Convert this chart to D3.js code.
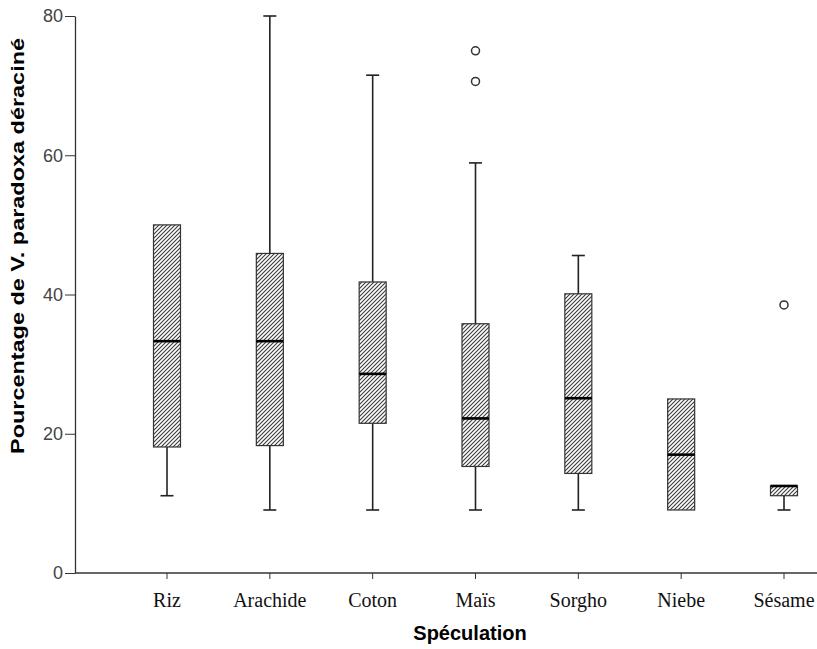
<!DOCTYPE html>
<html>
<head>
<meta charset="utf-8">
<script src="https://cdn.jsdelivr.net/npm/d3@7/dist/d3.min.js"></script>
<style>
    body { margin: 0; background: #fff; }
    svg { display: block; }
</style>
</head>
<body>
<svg id="chart" width="817" height="649"></svg>
<script>
// Values.
var categories = ['Riz', 'Arachide', 'Coton', 'Maïs', 'Sorgho', 'Niebe', 'Sésame'];
var whiskerLow = [11.1, 9.05, 9.05, 9.05, 9.05, 9.05, 9.05];
var quartile1 = [18.1, 18.3, 21.5, 15.3, 14.3, 9.05, 11.1];
var medians = [33.3, 33.3, 28.6, 22.2, 25.1, 17.0, 12.5];
var quartile3 = [50.0, 45.9, 41.8, 35.8, 40.1, 25.0, 12.5];
var whiskerHigh = [50.0, 80.0, 71.5, 58.9, 45.6, 25.0, 12.5];
var outliers = [[], [], [], [75.0, 70.6], [], [], [38.5]];
var yTicks = [0, 20, 40, 60, 80];

var boxes = categories.map(function (name, i) {
    return {
        name: name,
        low: whiskerLow[i],
        q1: quartile1[i],
        median: medians[i],
        q3: quartile3[i],
        high: whiskerHigh[i],
        outliers: outliers[i]
    };
});

var svg = d3.select('#chart');

var plotLeft = 75,
    plotTop = 16,
    plotBottom = 573,
    plotRight = 817;

// Categorical positions: first tick at ~167, spacing ~103.
var x = d3.scalePoint()
    .domain(categories)
    .range([167, 784]);

var y = d3.scaleLinear()
    .domain([0, 80])
    .range([plotBottom, plotTop]);

var boxWidth = 27,
    capWidth = 13;

// Hatch pattern for the box fill.
var defs = svg.append('defs');
defs.append('pattern')
    .attr('id', 'hatch')
    .attr('patternUnits', 'userSpaceOnUse')
    .attr('width', 4)
    .attr('height', 4)
    .append('path')
    .attr('d', 'M-1,1 l2,-2 M0,4 l4,-4 M3,5 l2,-2')
    .attr('stroke', '#3a3a3a')
    .attr('stroke-width', 1.1);

// Y axis.
var yAxis = svg.append('g')
    .attr('transform', 'translate(' + plotLeft + ',0)')
    .call(d3.axisLeft(y).tickValues(yTicks).tickSize(10).tickPadding(2).tickSizeOuter(0));

yAxis.select('.domain').attr('stroke', '#333').attr('stroke-width', 1.3);
yAxis.selectAll('.tick line').attr('stroke', '#333');
yAxis.selectAll('.tick text')
    .attr('fill', '#444')
    .style('font-family', 'Arial, "Liberation Sans", sans-serif')
    .style('font-size', '18px');

// X axis.
var xAxis = svg.append('g')
    .attr('transform', 'translate(0,' + plotBottom + ')');

xAxis.append('line')
    .attr('x1', plotLeft)
    .attr('x2', plotRight)
    .attr('stroke', '#333')
    .attr('stroke-width', 1.3);

xAxis.selectAll('line.tick')
    .data(categories)
    .enter()
    .append('line')
    .attr('class', 'tick')
    .attr('x1', function (d) { return x(d); })
    .attr('x2', function (d) { return x(d); })
    .attr('y1', 0)
    .attr('y2', 6)
    .attr('stroke', '#333');

xAxis.selectAll('text.label')
    .data(categories)
    .enter()
    .append('text')
    .attr('class', 'label')
    .attr('x', function (d) { return x(d); })
    .attr('y', 34)
    .attr('text-anchor', 'middle')
    .style('font-family', '"Liberation Serif", "Times New Roman", serif')
    .style('font-size', '20px')
    .attr('fill', '#111')
    .text(function (d) { return d; });

// Axis titles.
svg.append('text')
    .attr('x', 470)
    .attr('y', 640)
    .attr('text-anchor', 'middle')
    .style('font-family', 'Arial, "Liberation Sans", sans-serif')
    .style('font-weight', 'bold')
    .style('font-size', '20px')
    .text('Spéculation');

// The reference title is drawn long and narrow, so stretch it.
svg.append('text')
    .attr('transform', 'translate(24,246) rotate(-90)')
    .attr('text-anchor', 'middle')
    .attr('textLength', 416)
    .attr('lengthAdjust', 'spacingAndGlyphs')
    .style('font-family', 'Arial, "Liberation Sans", sans-serif')
    .style('font-weight', 'bold')
    .style('font-size', '19px')
    .text('Pourcentage de V. paradoxa déraciné');

// Boxes.
var box = svg.selectAll('g.box')
    .data(boxes)
    .enter()
    .append('g')
    .attr('class', 'box');

// Whiskers.
box.filter(function (d) { return d.high > d.q3; })
    .append('line')
    .attr('x1', function (d) { return x(d.name); })
    .attr('x2', function (d) { return x(d.name); })
    .attr('y1', function (d) { return y(d.q3); })
    .attr('y2', function (d) { return y(d.high); })
    .attr('stroke', '#222')
    .attr('stroke-width', 1.6);

box.filter(function (d) { return d.high > d.q3; })
    .append('line')
    .attr('x1', function (d) { return x(d.name) - capWidth / 2; })
    .attr('x2', function (d) { return x(d.name) + capWidth / 2; })
    .attr('y1', function (d) { return y(d.high); })
    .attr('y2', function (d) { return y(d.high); })
    .attr('stroke', '#222')
    .attr('stroke-width', 1.6);

box.filter(function (d) { return d.low < d.q1; })
    .append('line')
    .attr('x1', function (d) { return x(d.name); })
    .attr('x2', function (d) { return x(d.name); })
    .attr('y1', function (d) { return y(d.q1); })
    .attr('y2', function (d) { return y(d.low); })
    .attr('stroke', '#222')
    .attr('stroke-width', 1.6);

box.filter(function (d) { return d.low < d.q1; })
    .append('line')
    .attr('x1', function (d) { return x(d.name) - capWidth / 2; })
    .attr('x2', function (d) { return x(d.name) + capWidth / 2; })
    .attr('y1', function (d) { return y(d.low); })
    .attr('y2', function (d) { return y(d.low); })
    .attr('stroke', '#222')
    .attr('stroke-width', 1.6);

// Box body.
box.append('rect')
    .attr('x', function (d) { return x(d.name) - boxWidth / 2; })
    .attr('y', function (d) { return y(d.q3); })
    .attr('width', boxWidth)
    .attr('height', function (d) { return y(d.q1) - y(d.q3); })
    .attr('fill', 'url(#hatch)')
    .attr('stroke', '#333')
    .attr('stroke-width', 1.2);

// Median.
box.append('line')
    .attr('x1', function (d) { return x(d.name) - boxWidth / 2; })
    .attr('x2', function (d) { return x(d.name) + boxWidth / 2; })
    .attr('y1', function (d) { return y(d.median); })
    .attr('y2', function (d) { return y(d.median); })
    .attr('stroke', '#000')
    .attr('stroke-width', 2.6);

// Outliers.
box.selectAll('circle')
    .data(function (d) {
        return d.outliers.map(function (v) { return { name: d.name, value: v }; });
    })
    .enter()
    .append('circle')
    .attr('cx', function (d) { return x(d.name); })
    .attr('cy', function (d) { return y(d.value); })
    .attr('r', 4)
    .attr('fill', '#fff')
    .attr('stroke', '#333')
    .attr('stroke-width', 1.5);
</script>
</body>
</html>
